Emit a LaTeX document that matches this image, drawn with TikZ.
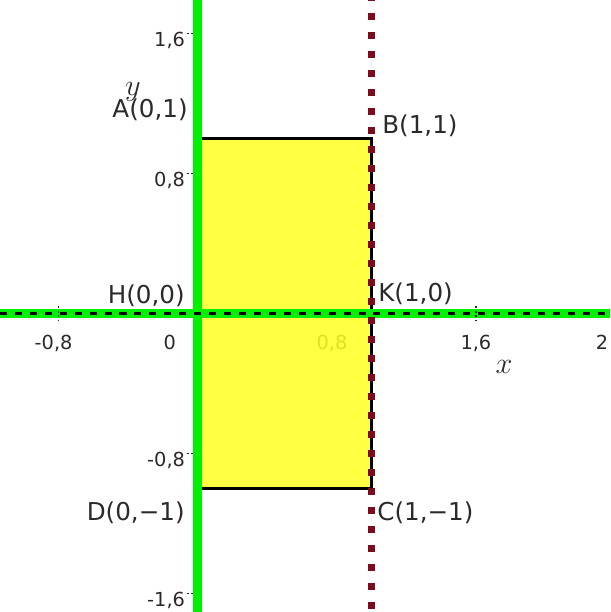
\documentclass[tikz,border=0pt]{standalone}
\usepackage{fontspec}
\setmainfont{DejaVu Sans}
\usetikzlibrary{positioning}
\definecolor{cG}{HTML}{00F000}
\definecolor{cY}{HTML}{FFFF22}
\definecolor{cR}{HTML}{7E0A1E}
\definecolor{cT}{HTML}{2A2A2A}
\tikzset{
  ptlab/.style={inner sep=0pt,text=cT,font=\fontsize{14}{16}\selectfont},
  ticklab/.style={inner sep=0pt,text=cT,font=\fontsize{11}{13}\selectfont},
  axlab/.style={inner sep=0pt,text=cT,font=\fontsize{16}{18}\selectfont},
  greenline/.style={cG,line width=5pt},
  axisline/.style={black,line width=1.6pt,dash pattern=on 4pt off 4.5pt},
  redline/.style={cR,line width=4pt,dash pattern=on 4pt off 6.8pt,dash phase=3.2pt},
  rectedge/.style={black,line width=1.4pt},
  tickmark/.style={cT,line width=0.8pt,dash pattern=on 1pt off 1.5pt},
}
\begin{document}
\begin{tikzpicture}[x=3.48cm,y=3.5cm]
  \useasboundingbox (-1.135,-1.706) rectangle (2.371,1.791);
  \coordinate (H) at (0,0); \coordinate (K) at (1,0);
  \coordinate (A) at (0,1); \coordinate (B) at (1,1);
  \coordinate (C) at (1,-1); \coordinate (D) at (0,-1);
  \coordinate (yt) at (0,1.791); \coordinate (yb) at (0,-1.706);
  \coordinate (xl) at (-1.135,0); \coordinate (xr) at (2.371,0);
  \coordinate (rt) at (1,1.791); \coordinate (rb) at (1,-1.706);
  % tick labels
  \foreach \v/\t [count=\i] in {1.6/{1,6},0.8/{0,8},-0.8/{-0,8},-1.6/{-1,6}}{
    \node[ticklab,anchor=north east] (ty\i) at (-0.07,\v+0.01) {\t};
    \draw[tickmark] (-0.06,\v) -- (0.01,\v);}
  \foreach \p/\t [count=\i] in {-0.827/{-0,8},-0.16/0,0.773/{0,8},1.6/{1,6},2.325/2}
    \node[ticklab,anchor=north] (tx\i) at (\p,-0.12) {\t};
  % region and lines
  \fill[cY,fill opacity=.85] (A) rectangle (C);
  \draw[rectedge] (A) -- (B) -- (C) -- (D);
  \draw[greenline] (yb) -- (yt);
  \draw[greenline] (xl) -- (xr);
  \draw[axisline] (xl) -- (xr);
  \draw[redline] (rt) -- (rb);
  \foreach \p in {-0.8,1.6}
    \draw[tickmark] (\p,-0.045) -- (\p,0.045);
  % labels
  \node[ptlab,above left=0.35cm and 0.19cm of A] (lA) {A(0,1)};
  \node[ptlab,above right=0.03cm and 0.21cm of B] (lB) {B(1,1)};
  \node[ptlab,above left=0.13cm and 0.25cm of H] (lH) {H(0,0)};
  \node[ptlab,above right=0.17cm and 0.13cm of K] (lK) {K(1,0)};
  \node[ptlab,below left=0.27cm and 0.25cm of D] (lD) {D(0,−1)};
  \node[ptlab,below right=0.27cm and 0.11cm of C] (lC) {C(1,−1)};
  \node[axlab] (lx) at (1.762,-0.306) {$x$};
  \node[axlab] (ly) at (-0.371,1.266) {$y$};
\end{tikzpicture}
\end{document}
